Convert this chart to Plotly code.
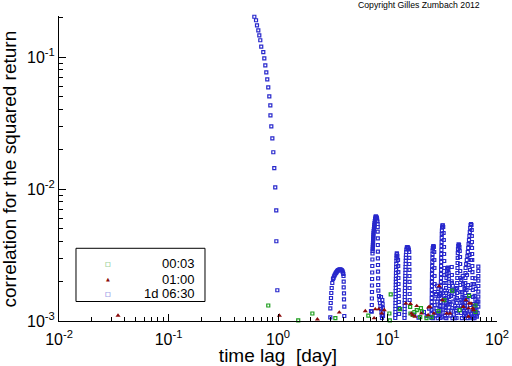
import plotly.graph_objects as go

# ---------------- data (time lag in days, correlation of squared return) ----------------
# 1d 06:30 series : steep initial decay
blue_lag_decay = [0.595, 0.608, 0.630, 0.643, 0.661, 0.675, 0.689, 0.703, 0.734, 0.750, 0.766, 0.782, 0.798,
                  0.815, 0.833, 0.851, 0.853, 0.869, 0.888, 0.906, 0.925, 0.944, 0.964, 0.966, 0.986]
blue_corr_decay = [0.222, 0.202, 0.190, 0.174, 0.159, 0.146, 0.134, 0.120, 0.109, 0.0977, 0.0865, 0.0766, 0.0678,
                   0.0589, 0.0503, 0.0431, 0.0361, 0.0298, 0.0242, 0.0190, 0.0144, 0.0103, 0.0069, 0.00402, 0.00171]

# bump near 3-4 days
blue_lag_b1 = [3.004, 3.004, 3.030, 3.048, 3.067, 3.093, 3.132, 3.179, 3.212, 3.246, 3.281, 3.315, 3.350, 3.386,
               3.421, 3.458, 3.494, 3.531, 3.569, 3.607, 3.644, 3.683, 3.722, 3.761, 3.801, 3.841, 3.882, 3.923,
               3.947, 3.964, 3.981, 3.981, 4.006, 4.006, 4.032, 4.032]
blue_corr_b1 = [1.067e-3, 1.248e-3, 1.369e-3, 1.494e-3, 1.630e-3, 1.778e-3, 1.941e-3, 2.080e-3, 2.117e-3, 2.174e-3,
                2.212e-3, 2.251e-3, 2.290e-3, 2.318e-3, 2.350e-3, 2.379e-3, 2.400e-3, 2.421e-3, 2.434e-3, 2.446e-3,
                2.455e-3, 2.455e-3, 2.455e-3, 2.446e-3, 2.434e-3, 2.413e-3, 2.379e-3, 2.330e-3, 2.270e-3, 2.193e-3,
                1.985e-3, 1.800e-3, 1.621e-3, 1.460e-3, 1.283e-3, 1.091e-3]

# bump near 7-9 days
blue_lag_b2 = [7.068, 7.173, 7.188, 7.203, 7.218, 7.218, 7.233, 7.249, 7.264, 7.279, 7.295, 7.310, 7.325, 7.341,
               7.357, 7.372, 7.388, 7.403, 7.419, 7.434, 7.450, 7.482, 7.513, 7.544, 7.577, 7.609, 7.656, 7.705,
               7.754, 7.802, 7.852, 7.918, 7.985, 8.035, 8.086, 8.120, 8.137, 8.137, 8.154, 8.154, 8.171, 8.171,
               8.188, 8.188, 8.206, 8.224, 8.241, 8.363, 8.451, 8.540, 8.631, 8.721, 8.813, 8.869, 8.907, 8.963,
               9.021, 9.059, 9.097, 9.097, 8.721]
blue_corr_b2 = [1.191e-3, 1.176e-3, 1.322e-3, 1.481e-3, 1.659e-3, 1.858e-3, 2.080e-3, 2.330e-3, 2.610e-3, 2.923e-3,
                3.246e-3, 3.391e-3, 3.511e-3, 3.636e-3, 3.765e-3, 3.899e-3, 4.037e-3, 4.181e-3, 4.329e-3, 4.483e-3,
                4.642e-3, 4.806e-3, 4.977e-3, 5.153e-3, 5.337e-3, 5.526e-3, 5.722e-3, 5.925e-3, 6.083e-3, 6.168e-3,
                6.168e-3, 6.136e-3, 6.030e-3, 5.874e-3, 5.673e-3, 5.430e-3, 5.153e-3, 4.748e-3, 4.231e-3, 3.765e-3,
                3.350e-3, 2.985e-3, 2.657e-3, 2.363e-3, 2.106e-3, 1.874e-3, 1.697e-3, 1.547e-3, 1.442e-3, 1.369e-3,
                1.299e-3, 1.233e-3, 1.170e-3, 1.110e-3, 1.054e-3, 1.442e-3, 1.345e-3, 1.254e-3, 1.170e-3, 1.091e-3,
                1.520e-3]

# bump near 12 days
blue_lag_b3 = [11.78, 11.78, 11.81, 11.81, 11.83, 11.83, 11.86, 11.86, 11.88, 11.88, 11.91, 11.91, 11.93, 11.93,
               11.96, 11.96, 11.98, 12.01, 12.03, 12.06, 12.08, 12.11, 12.16, 12.21, 12.29,
               12.47, 12.52, 12.55, 12.57, 12.60, 12.62, 12.65, 12.68, 12.74, 12.74]
blue_corr_b3 = [1.054e-3, 1.110e-3, 1.170e-3, 1.233e-3, 1.299e-3, 1.369e-3, 1.443e-3, 1.520e-3, 1.602e-3, 1.688e-3,
                1.779e-3, 1.875e-3, 1.976e-3, 2.082e-3, 2.193e-3, 2.311e-3, 2.436e-3, 2.566e-3, 2.704e-3, 2.850e-3,
                3.003e-3, 3.135e-3, 3.258e-3, 3.219e-3, 3.108e-3,
                2.898e-3, 2.610e-3, 2.350e-3, 2.117e-3, 1.907e-3, 1.718e-3, 1.547e-3, 1.393e-3, 1.254e-3, 1.130e-3]

# bump near 14-16 days
blue_lag_b4 = [14.30, 14.30, 14.33, 14.33, 14.36, 14.36, 14.39, 14.39, 14.42, 14.42, 14.45, 14.45, 14.48, 14.51,
               14.54, 14.57, 14.60, 14.63, 14.66, 14.69, 14.72, 14.75, 14.82, 14.88, 15.01, 15.16, 15.32, 15.49,
               15.65, 15.78, 15.82, 15.82, 15.85, 15.85, 15.88, 15.88, 15.92, 15.92,
               17.5, 19.2, 21.5, 22.8, 24.0]
blue_corr_b4 = [1.054e-3, 1.110e-3, 1.170e-3, 1.233e-3, 1.299e-3, 1.369e-3, 1.443e-3, 1.520e-3, 1.602e-3, 1.688e-3,
                1.779e-3, 1.875e-3, 1.976e-3, 2.082e-3, 2.193e-3, 2.311e-3, 2.436e-3, 2.566e-3, 2.704e-3, 2.850e-3,
                3.003e-3, 3.164e-3, 3.332e-3, 3.480e-3, 3.605e-3, 3.636e-3, 3.617e-3, 3.573e-3, 3.480e-3,
                3.332e-3, 3.003e-3, 2.704e-3, 2.436e-3, 2.193e-3, 1.976e-3, 1.779e-3, 1.602e-3, 1.443e-3,
                1.12e-3, 1.06e-3, 1.17e-3, 1.09e-3, 1.24e-3]

# bump near 25 days
blue_lag_b5 = [25.23, 25.23, 25.28, 25.28, 25.33, 25.33, 25.39, 25.39, 25.44, 25.44, 25.50, 25.50, 25.55, 25.60,
               25.66, 25.71, 25.76, 25.82, 25.93, 26.09, 26.31, 26.48, 26.70, 26.76, 26.81, 26.87, 26.92, 27.04]
blue_corr_b5 = [1.054e-3, 1.130e-3, 1.212e-3, 1.299e-3, 1.393e-3, 1.494e-3, 1.602e-3, 1.718e-3, 1.842e-3, 1.976e-3,
                2.117e-3, 2.270e-3, 2.436e-3, 2.610e-3, 2.799e-3, 3.003e-3, 3.219e-3, 3.420e-3, 3.573e-3, 3.668e-3,
                3.700e-3, 3.636e-3, 3.332e-3, 2.898e-3, 2.521e-3, 2.193e-3, 1.907e-3, 1.659e-3]

# bump near 31 days
blue_lag_b6 = [30.48, 30.48, 30.55, 30.55, 30.61, 30.61, 30.68, 30.68, 30.74, 30.74, 30.81, 30.81, 30.87, 30.87,
               30.93, 30.93, 31.00, 31.06, 31.13, 31.19, 31.26, 31.33, 31.39, 31.52, 31.72, 31.99, 32.26,
               32.53, 32.67, 32.81, 32.88, 32.95, 33.02, 33.09, 33.16]
blue_corr_b6 = [1.054e-3, 1.130e-3, 1.212e-3, 1.299e-3, 1.393e-3, 1.494e-3, 1.602e-3, 1.718e-3, 1.842e-3, 1.976e-3,
                2.117e-3, 2.270e-3, 2.436e-3, 2.610e-3, 2.799e-3, 3.003e-3, 3.219e-3, 3.451e-3, 3.700e-3, 3.967e-3,
                4.254e-3, 4.561e-3, 4.849e-3, 5.109e-3, 5.290e-3, 5.309e-3, 5.153e-3,
                4.642e-3, 4.109e-3, 3.636e-3, 3.219e-3, 2.848e-3, 2.521e-3, 2.231e-3, 1.941e-3]

# bump near 35 days
blue_lag_b6b = [33.86, 33.93, 34.00, 34.08, 34.15, 34.22, 34.29, 34.44, 34.58, 34.73, 34.95, 35.24, 35.62, 35.92,
                36.14, 36.30, 36.45, 36.60, 36.76, 38.59, 38.67, 38.75, 38.83]
blue_corr_b6b = [1.054e-3, 1.150e-3, 1.254e-3, 1.369e-3, 1.494e-3, 1.630e-3, 1.779e-3, 1.941e-3, 2.117e-3, 2.270e-3,
                 2.413e-3, 2.521e-3, 2.543e-3, 2.477e-3, 2.310e-3, 2.080e-3, 1.842e-3, 1.602e-3, 1.393e-3,
                 2.566e-3, 2.231e-3, 1.941e-3, 1.718e-3]

# bump near 44 days
blue_lag_b7 = [42.67, 42.77, 42.86, 42.95, 43.04, 43.13, 43.22, 43.31, 43.40, 43.50, 43.59, 43.68, 43.77, 43.86,
               44.05, 44.33, 44.61, 44.98, 45.36, 45.65, 45.94, 46.03, 46.13, 46.22, 46.32, 46.42, 46.51]
blue_corr_b7 = [1.054e-3, 1.150e-3, 1.254e-3, 1.369e-3, 1.494e-3, 1.630e-3, 1.779e-3, 1.941e-3, 2.117e-3, 2.310e-3,
                2.521e-3, 2.750e-3, 3.003e-3, 3.275e-3, 3.511e-3, 3.700e-3, 3.811e-3, 3.765e-3, 3.636e-3, 3.391e-3,
                3.054e-3, 2.704e-3, 2.392e-3, 2.117e-3, 1.874e-3, 1.659e-3, 1.443e-3]

# bump near 52-60 days and tail near 67 days
blue_lag_b8 = [51.03, 51.03, 51.14, 51.14, 51.24, 51.24, 51.35, 51.35, 51.46, 51.56, 51.67, 52.33, 52.99, 53.67,
               54.12, 54.58, 55.04, 55.50, 55.97, 56.45, 56.93, 57.41, 57.90, 58.39, 58.75, 58.88, 59.00, 59.13,
               59.25, 59.38, 59.50, 59.62, 59.76, 59.88, 60.13, 60.38, 60.63, 60.90,
               53.21, 54.35, 55.50, 56.68, 54.92, 56.68, 56.10, 57.29, 57.90, 53.78, 52.66, 57.29,
               67.5, 67.5, 67.5, 67.5, 67.5, 67.5, 67.5, 67.5, 67.5]
blue_corr_b8 = [1.054e-3, 1.150e-3, 1.254e-3, 1.369e-3, 1.494e-3, 1.630e-3, 1.779e-3, 1.941e-3, 2.117e-3, 2.310e-3,
                2.521e-3, 2.704e-3, 2.898e-3, 3.108e-3, 3.332e-3, 3.573e-3, 3.831e-3, 4.108e-3, 4.405e-3, 4.723e-3,
                5.068e-3, 5.337e-3, 5.430e-3, 5.337e-3, 4.891e-3, 4.405e-3, 3.967e-3, 3.573e-3, 3.219e-3, 2.898e-3,
                2.610e-3, 2.350e-3, 2.117e-3, 1.907e-3, 1.718e-3, 1.520e-3, 1.345e-3, 1.191e-3,
                2.231e-3, 1.874e-3, 1.574e-3, 1.322e-3, 2.657e-3, 2.436e-3, 3.164e-3, 3.765e-3, 2.898e-3, 1.443e-3,
                1.718e-3, 1.779e-3,
                2.578e-3, 2.392e-3, 2.193e-3, 2.020e-3, 1.842e-3, 1.667e-3, 1.528e-3, 1.400e-3, 1.283e-3]

# dense low cloud between the bumps (25-67 days)
blue_lag_low = [27.5, 28.0, 28.5, 29.0, 29.5, 30.0, 29.2, 27.8, 28.3,
                33.5, 34.0, 35.0, 36.0, 37.0, 37.5, 38.0, 39.0, 40.0, 40.5, 41.0, 41.5, 42.0, 39.5, 38.5,
                47.0, 47.5, 48.0, 48.5, 49.0, 49.5, 50.0, 50.5, 47.2, 48.6,
                61.5, 62.0, 62.5, 63.0, 63.5, 64.0, 64.5, 65.0, 61.8, 63.2,
                26.0, 26.5, 27.0, 27.3, 28.8, 29.8, 30.2, 31.5, 32.0, 32.5, 33.0, 33.3,
                34.5, 35.5, 36.5, 37.2, 38.2, 39.2, 40.2, 41.2, 41.8, 42.3,
                46.8, 47.8, 48.3, 49.3, 49.8, 50.3, 50.8, 52.0, 53.0, 54.0, 55.0, 56.0, 57.0, 58.0, 59.0,
                60.0, 61.0, 62.3, 63.7, 64.8, 65.5, 66.0, 66.5]
blue_corr_low = [1.10e-3, 1.25e-3, 1.40e-3, 1.15e-3, 1.55e-3, 1.30e-3, 1.75e-3, 1.60e-3, 1.85e-3,
                 1.10e-3, 1.28e-3, 1.45e-3, 1.20e-3, 1.35e-3, 1.10e-3, 1.55e-3, 1.25e-3, 1.40e-3, 1.12e-3, 1.60e-3,
                 1.30e-3, 1.75e-3, 1.85e-3, 2.00e-3,
                 1.15e-3, 1.40e-3, 1.65e-3, 1.25e-3, 1.90e-3, 1.50e-3, 1.10e-3, 1.75e-3, 2.05e-3, 2.20e-3,
                 1.10e-3, 1.30e-3, 1.55e-3, 1.20e-3, 1.45e-3, 1.75e-3, 1.15e-3, 1.35e-3, 1.90e-3, 2.10e-3,
                 1.05e-3, 1.18e-3, 1.32e-3, 1.48e-3, 1.05e-3, 1.12e-3, 1.60e-3, 1.08e-3, 1.22e-3, 1.38e-3, 1.55e-3,
                 1.70e-3,
                 1.05e-3, 1.33e-3, 1.52e-3, 1.68e-3, 1.20e-3, 1.05e-3, 1.70e-3, 1.05e-3, 1.45e-3, 1.20e-3,
                 1.30e-3, 1.05e-3, 1.52e-3, 1.33e-3, 1.20e-3, 1.45e-3, 1.30e-3, 1.10e-3, 1.20e-3, 1.05e-3, 1.12e-3,
                 1.18e-3, 1.06e-3, 1.14e-3, 1.08e-3,
                 1.05e-3, 1.20e-3, 1.05e-3, 1.10e-3, 1.22e-3, 1.08e-3, 1.40e-3, 1.15e-3]

blue_lag = (blue_lag_decay + blue_lag_b1 + blue_lag_b2 + blue_lag_b3 + blue_lag_b4 + blue_lag_b5 +
            blue_lag_b6 + blue_lag_b6b + blue_lag_b7 + blue_lag_b8 + blue_lag_low)
blue_corr = (blue_corr_decay + blue_corr_b1 + blue_corr_b2 + blue_corr_b3 + blue_corr_b4 + blue_corr_b5 +
             blue_corr_b6 + blue_corr_b6b + blue_corr_b7 + blue_corr_b8 + blue_corr_low)

# 00:03 series
green_lag = [0.815, 1.53, 2.06, 3.34, 6.68, 10.4, 10.7, 10.5, 13.0, 16.2, 16.1, 17.0, 17.6, 18.5, 20.2, 20.6,
             19.9, 22.7, 25.2, 29.3, 33.0, 39.0, 45.6, 55.6, 63.5, 63.5]
green_corr = [1.31e-3, 1.01e-3, 1.14e-3, 1.05e-3, 1.10e-3, 1.14e-3, 1.59e-3, 1.01e-3, 1.23e-3, 1.14e-3, 1.28e-3,
              1.11e-3, 1.17e-3, 1.21e-3, 1.25e-3, 1.18e-3, 1.07e-3, 1.05e-3, 1.07e-3, 1.19e-3, 1.44e-3, 1.70e-3,
              1.21e-3, 1.55e-3, 1.31e-3, 1.17e-3]

# 01:00 series
red_lag = [0.0346, 1.03, 2.29, 3.63, 6.27, 7.55, 7.74, 8.32, 8.85, 9.35, 14.7, 16.2, 16.5, 17.0, 17.8, 18.5, 20.4,
           23.5, 23.7, 24.4, 26.5, 29.7, 31.8, 34.7, 37.2, 49.2, 52.1, 54.9, 55.6, 57.9, 60.0, 61.0, 54.9]
red_corr = [1.10e-3, 1.10e-3, 1.03e-3, 1.16e-3, 1.19e-3, 1.05e-3, 1.23e-3, 1.23e-3, 1.14e-3, 1.21e-3, 1.36e-3,
            1.35e-3, 1.14e-3, 1.11e-3, 1.08e-3, 1.30e-3, 1.14e-3, 1.11e-3, 1.27e-3, 1.28e-3, 1.14e-3, 1.84e-3,
            1.44e-3, 1.14e-3, 1.14e-3, 1.28e-3, 1.44e-3, 1.25e-3, 1.36e-3, 1.36e-3, 1.25e-3, 1.21e-3, 1.08e-3]

series_names = ["00:03", "01:00", "1d 06:30"]
series_colors = ["#1e9e1e", "#8b0a0a", "#2828cc"]
series_glyphs = ["\u25a1", "\u25b2", "\u25a1"]
x_tick_vals = [0.01, 0.1, 1, 10, 100]
x_tick_text = ["10<sup>-2</sup>", "10<sup>-1</sup>", "10<sup>0</sup>", "10<sup>1</sup>", "10<sup>2</sup>"]
y_tick_vals = [0.001, 0.01, 0.1]
y_tick_text = ["10<sup>-3</sup>", "10<sup>-2</sup>", "10<sup>-1</sup>"]

# ---------------- figure ----------------
FONT = "Liberation Sans, Arial, Helvetica, sans-serif"

fig = go.Figure()
fig.add_trace(go.Scatter(
    x=blue_lag, y=blue_corr, mode="markers", name=series_names[2], showlegend=False, cliponaxis=False,
    marker=dict(symbol="square-open", size=3, color=series_colors[2], line=dict(width=1.2, color=series_colors[2]))))
fig.add_trace(go.Scatter(
    x=green_lag, y=green_corr, mode="markers", name=series_names[0], showlegend=False, cliponaxis=False,
    marker=dict(symbol="square-open", size=3, color=series_colors[0], line=dict(width=1.2, color=series_colors[0]))))
fig.add_trace(go.Scatter(
    x=red_lag, y=red_corr, mode="markers", name=series_names[1], showlegend=False, cliponaxis=False,
    marker=dict(symbol="triangle-up", size=4.5, color=series_colors[1], line=dict(width=0))))

x_minor = [m * 10.0 ** e for e in range(-2, 2) for m in range(2, 10)]
y_minor = [m * 10.0 ** e for e in range(-3, 0) for m in range(2, 10) if m * 10.0 ** e < 0.21]

axis_common = dict(
    type="log", showgrid=False, zeroline=False, showline=True, linecolor="black", linewidth=1,
    mirror=False, ticks="inside", ticklen=7, tickwidth=1, tickcolor="black",
    tickfont=dict(family=FONT, size=16, color="black"),
)
fig.update_xaxes(
    **axis_common, range=[-2, 2], tickmode="array", tickvals=x_tick_vals, ticktext=x_tick_text,
    ticklabelstandoff=4,
    minor=dict(ticks="inside", ticklen=4, tickcolor="black", tickmode="array", tickvals=x_minor, showgrid=False),
    title=dict(text="time lag\u00a0\u00a0[day]", font=dict(family=FONT, size=19, color="black"), standoff=2),
)
fig.update_yaxes(
    **axis_common, range=[-3, -0.689], tickmode="array", tickvals=y_tick_vals, ticktext=y_tick_text,
    minor=dict(ticks="inside", ticklen=4, tickcolor="black", tickmode="array", tickvals=y_minor, showgrid=False),
)

# y axis title placed at the far left edge, as in the original
fig.add_annotation(
    text="correlation for the squared return", xref="paper", yref="paper", x=-0.1119, y=0.5,
    xanchor="center", yanchor="middle", textangle=-90, showarrow=False,
    font=dict(family=FONT, size=19, color="black"))

fig.add_annotation(
    text="Copyright Gilles Zumbach 2012", xref="paper", yref="paper", x=0.822, y=1.036,
    xanchor="center", yanchor="middle", showarrow=False, font=dict(family=FONT, size=8.7, color="black"))

# legend box drawn by hand (entries right-aligned as in the original)
fig.add_shape(type="rect", xref="paper", yref="paper", x0=0.0388, x1=0.3333, y0=0.0639, y1=0.2384,
              line=dict(color="black", width=1), fillcolor="white", layer="above")
legend_rows = [0.1892, 0.1367, 0.0908]
for name, color, glyph, ry in zip(series_names, series_colors, series_glyphs, legend_rows):
    fig.add_annotation(text=glyph, xref="paper", yref="paper", x=0.1126, y=ry, xanchor="center",
                       yanchor="middle", showarrow=False,
                       font=dict(family="DejaVu Sans", size=6 if glyph == "\u25a1" else 5, color=color))
    fig.add_annotation(text=name, xref="paper", yref="paper", x=0.316, y=ry, xanchor="right",
                       yanchor="middle", showarrow=False, font=dict(family=FONT, size=13, color="black"))

fig.update_layout(
    width=512, height=366, autosize=False,
    margin=dict(l=59, r=15, t=16, b=45, autoexpand=False),
    paper_bgcolor="white", plot_bgcolor="white",
    font=dict(family=FONT, color="black"),
    showlegend=False,
)

fig.write_html("out.html", config={"displayModeBar": False},
               post_script="document.body.style.margin='0px';")
